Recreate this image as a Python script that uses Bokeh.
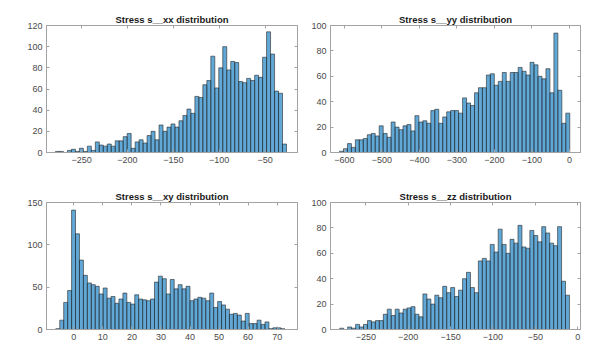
import numpy as np
from bokeh.plotting import figure
from bokeh.layouts import column, row
from bokeh.models import Range1d, FixedTicker, LinearAxis, CustomJSTickFormatter
from bokeh.embed import file_html
from bokeh.resources import INLINE

# ---- data (bin counts) ----
titles = ["Stress s__xx distribution", "Stress s__yy distribution",
          "Stress s__xy distribution", "Stress s__zz distribution"]

xx_counts = [1, 1, 0, 2, 3, 1, 4, 1, 6, 2, 10, 7, 6, 8, 6, 11, 11, 15, 18, 4,
             10, 12, 9, 16, 20, 12, 26, 20, 24, 27, 24, 30, 35, 41, 37, 53, 52, 64, 68, 91,
             61, 80, 100, 78, 86, 85, 67, 66, 70, 68, 73, 71, 90, 114, 93, 58, 56, 8]
xx_bin_range = [-278.4, -26.7]

yy_counts = [1, 3, 7, 4, 10, 10, 11, 14, 15, 13, 21, 15, 12, 24, 20, 18, 21, 22, 17, 29,
             24, 25, 23, 33, 34, 23, 28, 32, 33, 33, 31, 43, 39, 37, 47, 51, 51, 61, 62, 53,
             56, 63, 56, 63, 63, 67, 64, 61, 71, 69, 60, 58, 66, 47, 94, 49, 23, 31]
yy_bin_range = [-613.0, 1.0]

xy_counts = [1, 11, 32, 46, 141, 113, 82, 64, 55, 53, 51, 42, 49, 37, 39, 31, 36, 43, 32, 30,
             41, 36, 35, 34, 36, 56, 63, 60, 42, 59, 48, 53, 48, 51, 34, 36, 38, 37, 34, 43,
             26, 33, 29, 24, 18, 19, 17, 10, 19, 7, 7, 11, 6, 9, 1, 2, 2, 1]
xy_bin_range = [-6.2, 72.6]

zz_counts = [1, 0, 2, 1, 4, 2, 4, 7, 6, 7, 7, 12, 16, 11, 16, 13, 16, 17, 18, 12,
             10, 28, 24, 20, 27, 25, 34, 29, 33, 26, 31, 40, 45, 33, 29, 54, 56, 54, 67, 61,
             79, 67, 60, 71, 68, 82, 65, 64, 78, 74, 69, 81, 76, 68, 66, 81, 38, 27]
zz_bin_range = [-280.7, -9.8]

xx_xticks = [-250, -200, -150, -100, -50]
yy_xticks = [-600, -500, -400, -300, -200, -100, 0]
xy_xticks = [0, 10, 20, 30, 40, 50, 60, 70]
zz_xticks = [-250, -200, -150, -100, -50, 0]

xx_yticks = [0, 20, 40, 60, 80, 100, 120]
yy_yticks = [0, 20, 40, 60, 80, 100]
xy_yticks = [0, 50, 100, 150]
zz_yticks = [0, 20, 40, 60, 80, 100]

xx_xlim = [-288.2, -14.7]
yy_xlim = [-637.0, 29.6]
xy_xlim = [-9.4, 77.0]
zz_xlim = [-291.6, 3.2]

# ---- styling ----
FONT = "Liberation Sans"
BOX = "#a3a3a3"
LABEL = "#4a4a4a"
FILL = "#0072BD"


def style_axis(ax, ticks, labels=True):
    ax.ticker = FixedTicker(ticks=ticks)
    ax.axis_line_color = BOX
    ax.major_tick_line_color = BOX
    ax.major_tick_in = 3
    ax.major_tick_out = 0
    ax.minor_tick_line_color = None
    if labels:
        ax.major_label_text_font = FONT
        ax.major_label_text_font_size = "9px"
        ax.major_label_text_color = LABEL
        ax.major_label_standoff = 4
    else:
        ax.formatter = CustomJSTickFormatter(code="return ''")
        ax.major_label_text_font_size = "1px"
        ax.major_label_standoff = 0


def make(title, counts, bin_range, xlim, xticks, yticks, w, h, bl, br, bt, bb):
    p = figure(width=w, height=h, output_backend="svg", toolbar_location=None,
               x_range=Range1d(*xlim), y_range=Range1d(yticks[0], yticks[-1]),
               min_border_left=bl, min_border_right=br, min_border_top=bt,
               min_border_bottom=bb)
    edges = np.linspace(bin_range[0], bin_range[1], len(counts) + 1)
    p.quad(left=edges[:-1], right=edges[1:], bottom=0, top=counts,
           fill_color=FILL, fill_alpha=0.62, line_color="#262626", line_width=0.6)
    p.grid.visible = False
    p.outline_line_color = BOX
    p.outline_line_width = 1
    p.background_fill_color = "white"
    p.border_fill_color = "white"
    p.title.text = title
    p.title.text_font = FONT
    p.title.text_font_size = "9.5px"
    p.title.text_font_style = "bold"
    p.title.text_color = "#1a1a1a"
    p.title.align = "center"
    p.title.standoff = 1
    p.title.offset = 0
    style_axis(p.xaxis[0], xticks)
    style_axis(p.yaxis[0], yticks)
    top_ax = LinearAxis()
    right_ax = LinearAxis()
    style_axis(top_ax, xticks, labels=False)
    style_axis(right_ax, yticks, labels=False)
    p.add_layout(top_ax, "above")
    p.add_layout(right_ax, "right")
    return p


# frames: top row y 25..152, bottom row y 202..329; left col x 46..297, right col x 330..580
W1, W2 = 302, 298
H1, H2 = 177, 173
p1 = make(titles[0], xx_counts, xx_bin_range, xx_xlim, xx_xticks, xx_yticks, W1, H1, 46, 5, 25, 25)
p2 = make(titles[1], yy_counts, yy_bin_range, yy_xlim, yy_xticks, yy_yticks, W2, H1, 28, 20, 25, 25)
p3 = make(titles[2], xy_counts, xy_bin_range, xy_xlim, xy_xticks, xy_yticks, W1, H2, 46, 5, 25, 21)
p4 = make(titles[3], zz_counts, zz_bin_range, zz_xlim, zz_xticks, zz_yticks, W2, H2, 28, 20, 25, 21)

layout = column(row(p1, p2), row(p3, p4))
open("out.html", "w").write(file_html(layout, INLINE))
